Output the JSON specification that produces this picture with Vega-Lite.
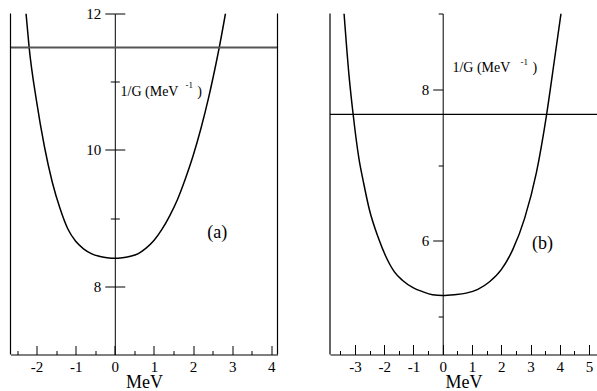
{
  "$schema": "https://vega.github.io/schema/vega-lite/v6.json",
  "padding": {"left": 9.5, "top": 6.5, "right": 0, "bottom": 0},
  "spacing": 50.5,
  "config": {
    "view": {"stroke": null},
    "font": "Liberation Serif",
    "axis": {
      "labelFont": "Liberation Serif", "titleFont": "Liberation Serif",
      "labelColor": "black", "titleColor": "black", "domainColor": "black", "tickColor": "black",
      "grid": false, "labelFontSize": 15, "titleFontSize": 18, "titleFontWeight": "normal",
      "labelOverlap": false, "labelBound": false, "labelFlush": false, "domainWidth": 1, "tickWidth": 1
    }
  },
  "datasets": {
    "curveA": [
      {"x": -2.27, "y": 12.0}, {"x": -2.19, "y": 11.5}, {"x": -2.0, "y": 10.71}, {"x": -1.8, "y": 10.05},
      {"x": -1.6, "y": 9.53}, {"x": -1.4, "y": 9.14}, {"x": -1.2, "y": 8.84}, {"x": -1.0, "y": 8.66},
      {"x": -0.8, "y": 8.55}, {"x": -0.6, "y": 8.48}, {"x": -0.4, "y": 8.44}, {"x": -0.2, "y": 8.42},
      {"x": 0.0, "y": 8.41}, {"x": 0.2, "y": 8.42}, {"x": 0.4, "y": 8.44}, {"x": 0.6, "y": 8.48},
      {"x": 0.8, "y": 8.56}, {"x": 1.0, "y": 8.67}, {"x": 1.2, "y": 8.83}, {"x": 1.4, "y": 9.03},
      {"x": 1.6, "y": 9.27}, {"x": 1.8, "y": 9.57}, {"x": 2.0, "y": 9.91}, {"x": 2.2, "y": 10.31},
      {"x": 2.4, "y": 10.77}, {"x": 2.6, "y": 11.3}, {"x": 2.67, "y": 11.5}, {"x": 2.83, "y": 12.0}
    ],
    "curveB": [
      {"x": -3.37, "y": 9.0}, {"x": -3.2, "y": 8.18}, {"x": -3.06, "y": 7.67}, {"x": -2.86, "y": 7.08},
      {"x": -2.7, "y": 6.76}, {"x": -2.51, "y": 6.42}, {"x": -2.2, "y": 6.04}, {"x": -1.95, "y": 5.8},
      {"x": -1.65, "y": 5.59}, {"x": -1.38, "y": 5.48}, {"x": -1.0, "y": 5.38}, {"x": -0.69, "y": 5.33},
      {"x": -0.35, "y": 5.29}, {"x": 0.0, "y": 5.28}, {"x": 0.4, "y": 5.29}, {"x": 0.8, "y": 5.31},
      {"x": 1.2, "y": 5.36}, {"x": 1.6, "y": 5.46}, {"x": 2.0, "y": 5.62}, {"x": 2.4, "y": 5.89},
      {"x": 2.8, "y": 6.3}, {"x": 3.2, "y": 6.9}, {"x": 3.55, "y": 7.67}, {"x": 3.81, "y": 8.37},
      {"x": 4.04, "y": 9.0}
    ]
  },
  "hconcat": [
    {
      "width": 267, "height": 341,
      "resolve": {"axis": {"x": "independent", "y": "independent"}},
      "layer": [
        {
          "data": {"name": "curveA"},
          "mark": {"type": "line", "color": "black", "strokeWidth": 1.5, "clip": true, "interpolate": "monotone"},
          "encoding": {
            "x": {"field": "x", "type": "quantitative",
              "scale": {"domain": [-2.667, 4.16], "nice": false, "zero": false},
              "axis": {"orient": "bottom", "values": [-2, -1, 0, 1, 2, 3, 4],
                "tickSize": -9,
                "labelExpr": "'' + datum.value",
                "labelPadding": 14, "title": "MeV", "titlePadding": -1}},
            "y": {"field": "y", "type": "quantitative",
              "scale": {"domain": [7, 12], "nice": false, "zero": false},
              "axis": {"orient": "left", "offset": -104.3, "values": [8, 9, 10, 11, 12],
                "tickSize": {"condition": {"test": "datum.value % 2 !== 0", "value": 4.5}, "value": 10},
                "labelExpr": "datum.value % 2 === 0 ? '' + datum.value : ''",
                "labelPadding": 4, "title": null}}
          }
        },
        {
          "data": {"values": [{"y": 11.5}]},
          "mark": {"type": "rule", "color": "#555555", "strokeWidth": 2},
          "encoding": {
            "y": {"field": "y", "type": "quantitative",
              "scale": {"domain": [7, 12], "nice": false, "zero": false},
              "axis": {"orient": "right", "offset": -162.7, "values": [8, 9, 10, 11, 12], "domain": false, "labels": false,
                "tickSize": {"condition": {"test": "datum.value % 2 !== 0", "value": 4.5}, "value": 10},
                "title": null}}
          }
        },
        {
          "data": {"values": [{"x": -2.667}, {"x": 4.16}]},
          "mark": {"type": "rule", "color": "black", "strokeWidth": 1.2},
          "encoding": {"x": {"field": "x", "type": "quantitative",
            "axis": {"orient": "bottom", "values": [-2.5, -1.5, -0.5, 0.5, 1.5, 2.5, 3.5], "tickSize": -4, "labels": false, "domain": false, "title": null}}}
        },
        {
          "data": {"values": [{"x": 0.146, "y": 10.79, "t": "1/G (MeV"}, {"x": 2.11, "y": 10.79, "t": ")"}]},
          "mark": {"type": "text", "font": "Liberation Serif", "fontSize": 14, "align": "left", "baseline": "alphabetic", "color": "black"},
          "encoding": {"x": {"field": "x", "type": "quantitative", "axis": null}, "y": {"field": "y", "type": "quantitative", "axis": null}, "text": {"field": "t"}}
        },
        {
          "data": {"values": [{"x": 1.81, "y": 10.91, "t": "-1"}]},
          "mark": {"type": "text", "font": "Liberation Serif", "fontSize": 9, "align": "left", "baseline": "alphabetic", "color": "black"},
          "encoding": {"x": {"field": "x", "type": "quantitative", "axis": null}, "y": {"field": "y", "type": "quantitative", "axis": null}, "text": {"field": "t"}}
        },
        {
          "data": {"values": [{"x": 2.62, "y": 8.71, "t": "(a)"}]},
          "mark": {"type": "text", "font": "Liberation Serif", "fontSize": 18, "align": "center", "baseline": "alphabetic", "color": "black"},
          "encoding": {"x": {"field": "x", "type": "quantitative", "axis": null}, "y": {"field": "y", "type": "quantitative", "axis": null}, "text": {"field": "t"}}
        }
      ]
    },
    {
      "width": 267, "height": 341,
      "resolve": {"axis": {"x": "independent", "y": "independent"}},
      "layer": [
        {
          "data": {"name": "curveB"},
          "mark": {"type": "line", "color": "black", "strokeWidth": 1.5, "clip": true, "interpolate": "monotone"},
          "encoding": {
            "x": {"field": "x", "type": "quantitative",
              "scale": {"domain": [-3.85, 5.27], "nice": false, "zero": false},
              "axis": {"orient": "bottom", "values": [-3, -2, -1, 0, 1, 2, 3, 4, 5],
                "tickSize": -10,
                "labelExpr": "'' + datum.value",
                "labelPadding": 15, "title": "MeV", "titlePadding": -1}},
            "y": {"field": "y", "type": "quantitative",
              "scale": {"domain": [4.5, 9], "nice": false, "zero": false},
              "axis": {"orient": "left", "offset": -112.7, "values": [5, 6, 7, 8, 9],
                "tickSize": {"condition": {"test": "datum.value % 2 !== 0", "value": 4.5}, "value": 10},
                "labelExpr": "datum.value % 2 === 0 ? '' + datum.value : ''",
                "labelPadding": 4, "title": null}}
          }
        },
        {
          "data": {"values": [{"y": 7.67}]},
          "mark": {"type": "rule", "color": "black", "strokeWidth": 1.2},
          "encoding": {"y": {"field": "y", "type": "quantitative", "axis": null}}
        },
        {
          "data": {"values": [{"x": -3.85}]},
          "mark": {"type": "rule", "color": "black", "strokeWidth": 1.2},
          "encoding": {"x": {"field": "x", "type": "quantitative",
            "axis": {"orient": "bottom", "values": [-3.5, -2.5, -1.5, -0.5, 0.5, 1.5, 2.5, 3.5, 4.5], "tickSize": -4, "labels": false, "domain": false, "title": null}}}
        },
        {
          "data": {"values": [{"x": 0.33, "y": 8.228, "t": "1/G (MeV"}, {"x": 3.07, "y": 8.228, "t": ")"}]},
          "mark": {"type": "text", "font": "Liberation Serif", "fontSize": 14, "align": "left", "baseline": "alphabetic", "color": "black"},
          "encoding": {"x": {"field": "x", "type": "quantitative", "axis": null}, "y": {"field": "y", "type": "quantitative", "axis": null}, "text": {"field": "t"}}
        },
        {
          "data": {"values": [{"x": 2.66, "y": 8.326, "t": "-1"}]},
          "mark": {"type": "text", "font": "Liberation Serif", "fontSize": 9, "align": "left", "baseline": "alphabetic", "color": "black"},
          "encoding": {"x": {"field": "x", "type": "quantitative", "axis": null}, "y": {"field": "y", "type": "quantitative", "axis": null}, "text": {"field": "t"}}
        },
        {
          "data": {"values": [{"x": 3.41, "y": 5.89, "t": "(b)"}]},
          "mark": {"type": "text", "font": "Liberation Serif", "fontSize": 18, "align": "center", "baseline": "alphabetic", "color": "black"},
          "encoding": {"x": {"field": "x", "type": "quantitative", "axis": null}, "y": {"field": "y", "type": "quantitative", "axis": null}, "text": {"field": "t"}}
        }
      ]
    }
  ]
}
